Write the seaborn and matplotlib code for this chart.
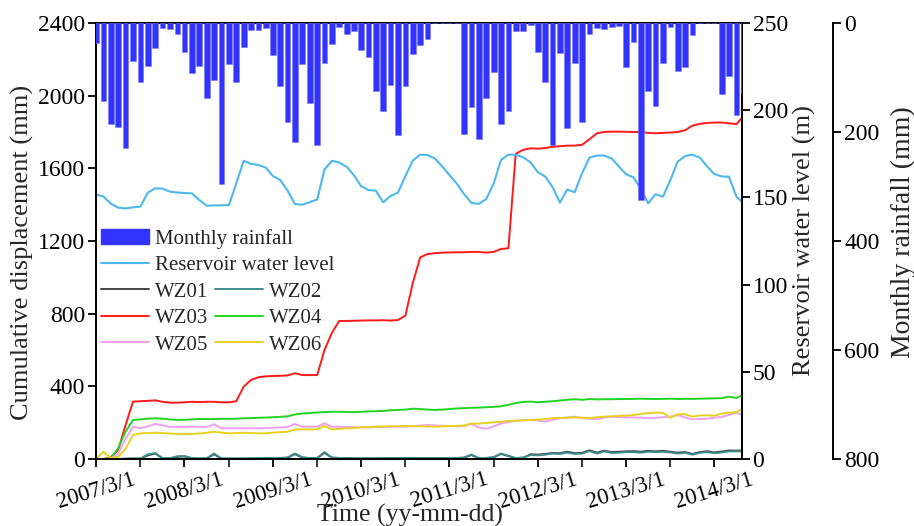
import numpy as np
import pandas as pd
import matplotlib
matplotlib.use("Agg")
import matplotlib.pyplot as plt
import matplotlib.dates as mdates
from matplotlib.patches import Patch
from matplotlib.lines import Line2D
import seaborn as sns

# ---------------- data ----------------
months = pd.date_range("2007-03-01", periods=89, freq="MS")

rainfall = [36, 144, 186, 190, 229, 70, 108, 78, 45, 9,
            11, 20, 53, 92, 78, 138, 105, 295, 76, 109,
            44, 13, 13, 9, 59, 116, 181, 219, 76, 146,
            223, 73, 39, 8, 20, 15, 50, 62, 124, 161,
            113, 205, 116, 57, 41, 29, 0, 0, 0, 0,
            203, 154, 212, 137, 89, 185, 161, 15, 15, 4,
            53, 108, 224, 55, 193, 73, 181, 21, 9, 11,
            7, 5, 81, 34, 325, 124, 152, 73, 8, 88,
            81, 22, 0, 0, 0, 131, 98, 168, 128]

reservoir = [151.7, 150.5, 146.5, 144.1, 143.7, 144.3, 144.7, 152.7, 155.2, 155.0,
             153.3, 152.8, 152.5, 152.3, 148.5, 145.2, 145.4, 145.5, 145.6, 158,
             171, 169.2, 168.6, 167, 162.3, 160, 154, 146.2, 145.8, 147.3,
             148.8, 166, 171, 170, 167.5, 162.5, 156.5, 154.2, 153.9, 147.2,
             150.8, 152.7, 162.3, 171, 174.5, 174.3, 172.3, 167.6, 163, 158,
             152, 146.8, 146.3, 149, 158, 171.4, 174.5, 174.5, 173, 170,
             164.5, 162, 156, 147, 154.5, 153, 164, 172.8, 174, 174,
             172.3, 167.5, 163.3, 161.5, 155, 146.6, 151.8, 150.4, 160, 170.5,
             173.7, 174.5, 172.8, 167.6, 163.4, 162, 161.9, 150.5, 146.5]

wz01 = [0, 0, 0, 0, 1, 2, 2, 20, 30, 4,
        4, 12, 14, 4, 2, 3, 26, 2, 2, 2,
        2, 3, 3, 4, 4, 5, 7, 27, 8, 4,
        5, 34, 7, 5, 4, 3, 3, 3, 3, 4,
        4, 4, 4, 4, 4, 4, 4, 4, 4, 5,
        7, 22, 4, 5, 9, 28, 16, 4, 7, 26,
        24, 28, 33, 32, 40, 32, 34, 48, 35, 46,
        38, 40, 42, 43, 40, 45, 42, 45, 40, 35,
        38, 28, 38, 43, 36, 41, 47, 46, 47]

wz02 = [0, 0, 0, 0, 2, 3, 3, 25, 33, 5,
        5, 15, 16, 5, 3, 4, 30, 3, 3, 3,
        3, 4, 4, 5, 5, 6, 8, 30, 10, 5,
        6, 38, 8, 6, 5, 4, 4, 4, 4, 5,
        5, 5, 5, 5, 5, 5, 5, 5, 5, 6,
        8, 24, 5, 6, 10, 30, 18, 5, 8, 22,
        20, 24, 30, 28, 35, 28, 30, 44, 30, 42,
        33, 35, 38, 38, 35, 40, 38, 40, 36, 30,
        34, 24, 34, 38, 32, 36, 42, 42, 43]

wz03 = [0, 0, 10, 50, 185, 316, 318, 320, 323, 315,
        310, 310, 312, 315, 313, 315, 315, 312, 312, 318,
        398, 435, 450, 455, 457, 458, 460, 472, 462, 462,
        462, 600, 695, 760, 760, 761, 762, 763, 763, 764,
        762, 765, 790, 967, 1110, 1128, 1133, 1136, 1137, 1138,
        1138, 1140, 1140, 1136, 1140, 1156, 1160, 1680, 1702, 1710,
        1708, 1712, 1718, 1722, 1725, 1725, 1730, 1760, 1793, 1800,
        1802, 1802, 1801, 1800, 1800, 1795, 1793, 1795, 1797, 1800,
        1810, 1835, 1845, 1850, 1852, 1852, 1848, 1843, 1890]

wz04 = [0, 0, 5, 60, 150, 215, 218, 222, 224, 222,
        218, 215, 216, 218, 220, 220, 220, 221, 221, 222,
        224, 225, 227, 228, 230, 232, 235, 245, 250, 253,
        256, 258, 260, 260, 259, 258, 260, 262, 263, 265,
        268, 270, 272, 277, 275, 272, 270, 272, 275, 278,
        280, 282, 283, 285, 287, 290, 298, 308, 314, 316,
        312, 315, 318, 322, 326, 329, 326, 330, 328, 329,
        329, 330, 330, 331, 332, 331, 330, 331, 332, 330,
        331, 331, 332, 333, 334, 335, 343, 336, 355]

wz05 = [0, 0, 3, 30, 110, 178, 169, 180, 193, 185,
        176, 176, 177, 178, 177, 176, 191, 169, 169, 169,
        169, 169, 170, 170, 172, 174, 176, 193, 178, 178,
        178, 196, 178, 177, 176, 175, 174, 174, 175, 176,
        177, 178, 179, 181, 184, 187, 185, 183, 182, 180,
        182, 193, 174, 166, 180, 195, 203, 211, 213, 215,
        212, 205, 215, 224, 228, 233, 224, 222, 218, 228,
        233, 230, 229, 229, 228, 224, 226, 230, 233, 242,
        228, 218, 220, 222, 227, 232, 242, 255, 240]

wz06 = [0, 40, 4, 12, 55, 132, 141, 143, 145, 143,
        140, 138, 138, 138, 140, 145, 150, 145, 141, 143,
        145, 143, 141, 142, 145, 148, 150, 163, 163, 163,
        163, 182, 163, 166, 169, 171, 174, 176, 178, 179,
        180, 180, 181, 181, 180, 179, 178, 180, 182, 182,
        184, 196, 195, 198, 202, 205, 209, 211, 213, 215,
        216, 220, 225, 226, 228, 229, 228, 224, 230, 233,
        235, 237, 239, 242, 248, 252, 255, 255, 227, 246,
        247, 233, 240, 240, 238, 250, 255, 258, 278]

series_names = ["WZ01", "WZ02", "WZ03", "WZ04", "WZ05", "WZ06"]
series_vals = [wz01, wz02, wz03, wz04, wz05, wz06]
series_colors = ["#444444", "#3E8C8C", "#FF1A1A", "#22D422", "#F0A0F0", "#E6D21E"]

disp_ticks = [0, 400, 800, 1200, 1600, 2000, 2400]
level_ticks = [0, 50, 100, 150, 200, 250]
rain_ticks = [0, 200, 400, 600, 800]

# ---------------- style ----------------
sns.set_theme(style="ticks")
plt.rcParams["font.family"] = ["Liberation Serif", "DejaVu Serif"]
plt.rcParams["axes.linewidth"] = 1.4

W, H = 914, 526
fig = plt.figure(figsize=(W / 100, H / 100), dpi=100)
x0, x1, y0, y1 = 96, 741.5, 23, 459
aw, ah = x1 - x0, y1 - y0
ax = fig.add_axes([x0 / W, 1 - y1 / H, aw / W, ah / H])
ax2 = ax.twinx()
ax3 = ax.twinx()
ax3.spines["right"].set_position(("axes", (833 - x0) / aw))

# displacement lines
df = pd.DataFrame({"date": np.tile(months, 6),
                   "disp": np.concatenate(series_vals),
                   "point": np.repeat(series_names, len(months))})
handles = {}
for name, col in zip(series_names, series_colors):
    sub = df[df["point"] == name]
    sns.lineplot(data=sub, x="date", y="disp", ax=ax, color=col, lw=1.4, legend=False)
    handles[name] = Line2D([], [], color=col, lw=1.4)

# reservoir
sns.lineplot(x=months, y=reservoir, ax=ax2, color="#4DB8EE", lw=1.5, legend=False)
h_res = Line2D([], [], color="#4DB8EE", lw=1.5)

# rainfall bars (hanging from top)
ax3.bar(months, rainfall, width=24, color="#3333FF", edgecolor="#7777FF", linewidth=0.4)
h_rain = Patch(facecolor="#3333FF", edgecolor="#3333FF")

# axes limits & ticks
ax.set_xlim(pd.Timestamp("2007-03-01"), pd.Timestamp("2014-06-22"))
ax.set_ylim(0, 2400)
ax.set_yticks(disp_ticks)
ax2.set_ylim(0, 250)
ax2.set_yticks(level_ticks)
ax3.set_ylim(800, 0)
ax3.set_yticks(rain_ticks)

ax.xaxis.set_major_locator(mdates.MonthLocator(bymonth=3))
ax.xaxis.set_minor_locator(mdates.MonthLocator(bymonth=9))
ax.xaxis.set_major_formatter(mdates.DateFormatter("%Y/%-m/%-d"))

tick_kw = dict(direction="out", length=6, width=1.3, labelsize=17, colors="black")
ax.tick_params(axis="both", which="major", pad=2, **tick_kw)
ax.tick_params(axis="x", which="major", labelsize=16.5, pad=1)
ax.tick_params(axis="x", which="minor", direction="out", length=6, width=1.3)
ax2.tick_params(axis="y", pad=2, **tick_kw)
ax3.tick_params(axis="y", pad=2, **tick_kw)
plt.setp(ax.get_xticklabels(), rotation=17, ha="center")

for a in (ax, ax2, ax3):
    for s in a.spines.values():
        s.set_color("black")
        s.set_linewidth(1.4)
ax3.spines["top"].set_visible(False)
ax3.spines["left"].set_visible(False)
ax3.spines["bottom"].set_visible(False)

ax.set_xlabel("Time (yy-mm-dd)", fontsize=18.5)
ax.xaxis.set_label_coords((410 - x0) / aw, (y1 - 515) / ah)
ax.xaxis.label.set_va("center")

ax.set_ylabel("Cumulative displacement (mm)", fontsize=19)
ax.yaxis.set_label_coords((22 - x0) / aw, (y1 - 252) / ah)
ax.yaxis.label.set_va("center")

ax2.set_ylabel("Reservoir water level (m)", fontsize=19)
ax2.yaxis.set_label_coords((804 - x0) / aw, (y1 - 241) / ah)
ax2.yaxis.label.set_va("center")

ax3.set_ylabel("Monthly rainfall (mm)", fontsize=20)
ax3.yaxis.set_label_coords((903 - x0) / aw, (y1 - 232) / ah)
ax3.yaxis.label.set_va("center")

# legends
leg_kw = dict(frameon=False, fontsize=15, handlelength=2.3, handletextpad=0.3,
              borderpad=0, borderaxespad=0, labelspacing=0.33, loc="upper left")
leg1 = ax3.legend([h_rain, h_res], ["Monthly rainfall", "Reservoir water level"],
                  bbox_to_anchor=((101 - x0) / aw, (y1 - 229) / ah), **leg_kw)
ax3.add_artist(leg1)
order = ["WZ01", "WZ03", "WZ05", "WZ02", "WZ04", "WZ06"]
leg2 = ax3.legend([handles[n] for n in order], order, ncol=2, columnspacing=0.3,
                  bbox_to_anchor=((101 - x0) / aw, (y1 - 282) / ah), **leg_kw)

fig.savefig("out.png", dpi=100)
